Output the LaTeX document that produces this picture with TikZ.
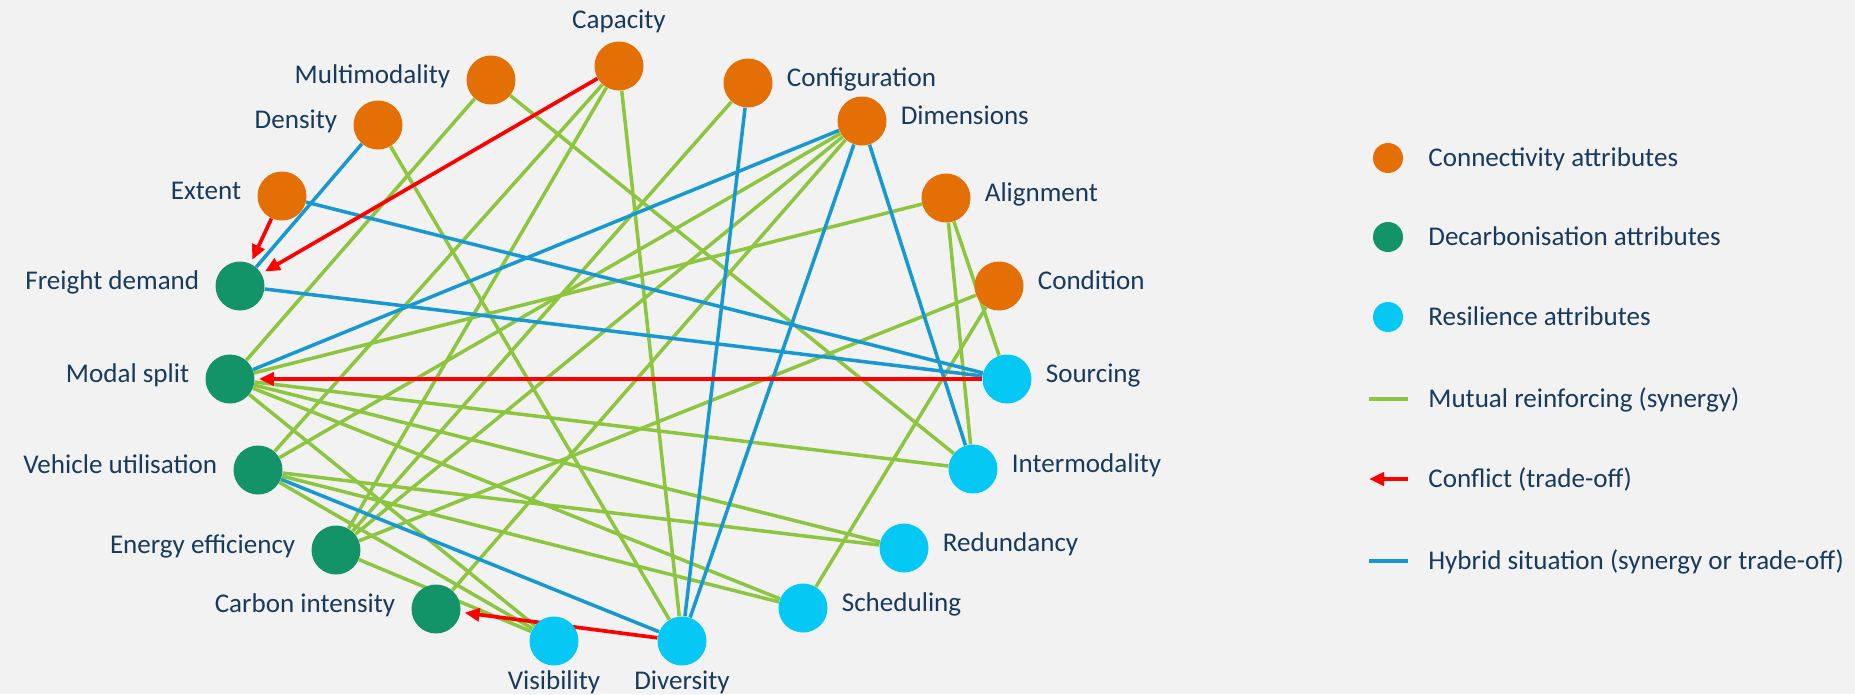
\documentclass[tikz,border=0pt]{standalone}
\usepackage{fontspec}
\setmainfont{Carlito}
\usepackage{tikz}
\usetikzlibrary{arrows.meta}
\definecolor{PageGrey}{RGB}{242,242,242}
\definecolor{ConnOrange}{RGB}{228,112,5}
\definecolor{DecarbGreen}{RGB}{18,148,104}
\definecolor{ResilCyan}{RGB}{5,201,244}
\definecolor{SynGreen}{RGB}{140,198,63}
\definecolor{HybBlue}{RGB}{24,152,208}
\definecolor{ConfRed}{RGB}{255,0,0}
\definecolor{LabelNavy}{RGB}{23,58,94}
\pgfdeclarelayer{bg}
\pgfdeclarelayer{links}
\pgfsetlayers{bg,links,main}
\tikzset{
  attr/.style={circle, minimum size=0.98cm, inner sep=0pt, draw=none},
  connattr/.style={attr, fill=ConnOrange},
  decattr/.style={attr, fill=DecarbGreen},
  resattr/.style={attr, fill=ResilCyan},
  lbl/.style={font=\fontsize{15.4}{18}\selectfont, text=LabelNavy, inner sep=0pt},
  lbl-left/.style={lbl, anchor=base east, xshift=-0.81cm, yshift=-0.07cm},
  lbl-right/.style={lbl, anchor=base west, xshift=0.77cm, yshift=-0.07cm},
  lbl-above/.style={lbl, anchor=south, yshift=0.65cm},
  lbl-below/.style={lbl, anchor=north, yshift=-0.59cm},
  synarr/.style={SynGreen, line width=2pt},
  hybarr/.style={HybBlue, line width=2pt},
  confarr/.style={-{Triangle[length=0.3cm, width=0.26cm]}, ConfRed, line width=2.1pt, shorten >=0.08cm},
  keyline/.style={line width=2.5pt, shorten >=0pt},
}

\begin{document}
\begin{tikzpicture}[x=0.02cm, y=-0.02cm]
  \useasboundingbox (0,0) rectangle (1855,694);
  \begin{pgfonlayer}{bg}
    \fill[PageGrey] (0,0) rectangle (1855,694);
  \end{pgfonlayer}

  % attributes round the ring
  \foreach \n/\x/\y/\t/\s in {cap/619/66/Capacity/above, mmod/491/80/Multimodality/left,
      dens/378/125/Density/left, ext/282/196/Extent/left, config/748/83/Configuration/right,
      dims/862/121/Dimensions/right, align/946/198/Alignment/right, cond/999/286/Condition/right} {
    \node[connattr] (\n) at (\x,\y) {};
    \node[lbl-\s] (\n-t) at (\n) {\t};
  }
  \foreach \n/\x/\y/\t/\s in {fdem/240/286/Freight demand/left, msplit/230/379/Modal split/left,
      vutil/258/470/Vehicle utilisation/left, eneff/336/550/Energy efficiency/left,
      cint/436/609/Carbon intensity/left} {
    \node[decattr] (\n) at (\x,\y) {};
    \node[lbl-\s] (\n-t) at (\n) {\t};
  }
  \foreach \n/\x/\y/\t/\s in {vis/554/641/Visibility/below, div/682/641/Diversity/below,
      sched/803/608/Scheduling/right, redun/904/548/Redundancy/right,
      imod/973/469/Intermodality/right, src/1007/379/Sourcing/right} {
    \node[resattr] (\n) at (\x,\y) {};
    \node[lbl-\s] (\n-t) at (\n) {\t};
  }

  % links behind the attributes
  \begin{pgfonlayer}{links}
    \foreach \a/\b in {mmod/msplit, mmod/imod, cap/vutil, cap/eneff, cap/div, dens/div,
        config/eneff, dims/vutil, dims/eneff, dims/cint, align/msplit, align/imod, align/src,
        cond/eneff, cond/sched, msplit/imod, msplit/redun, msplit/sched, msplit/vis,
        vutil/redun, vutil/sched, vutil/vis, eneff/vis}
      \draw[synarr] (\a) -- (\b);
    \foreach \a/\b in {dens/fdem, ext/src, fdem/src, msplit/dims, config/div, dims/div,
        dims/imod, vutil/div}
      \draw[hybarr] (\a) -- (\b);
    \foreach \a/\b in {ext/fdem, cap/fdem, src/msplit, div/cint}
      \draw[confarr] (\a) -- (\b);
  \end{pgfonlayer}

  % legend
  \foreach \k/\y/\s/\t in {0/158/connattr/Connectivity attributes,
      1/237/decattr/Decarbonisation attributes, 2/317/resattr/Resilience attributes} {
    \node[\s, minimum size=0.6cm] (key\k) at (1388,\y) {};
    \node[lbl, anchor=base west] (key\k-t) at (1428,\y+8.5) {\t};
  }
  \foreach \k/\y/\s/\t in {3/399/synarr/Mutual reinforcing (synergy),
      4/479/confarr/Conflict (trade-off), 5/561/hybarr/Hybrid situation (synergy or trade-off)} {
    \coordinate (key\k-a) at (1408,\y);
    \coordinate (key\k-b) at (1369,\y);
    \draw[\s, keyline] (key\k-a) -- (key\k-b);
    \node[lbl, anchor=base west] (key\k-t) at (1428,\y+8.5) {\t};
  }
\end{tikzpicture}
\end{document}
